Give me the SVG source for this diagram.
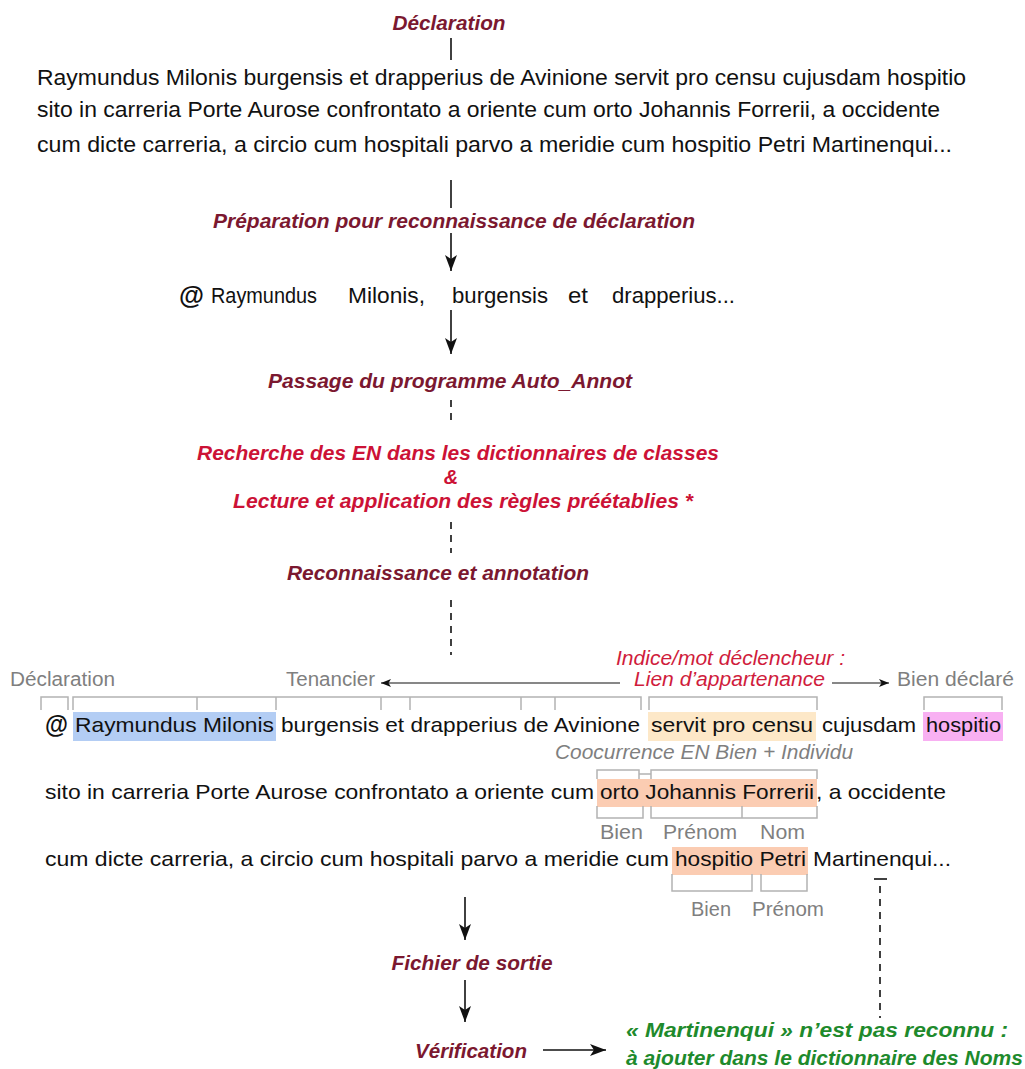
<svg xmlns="http://www.w3.org/2000/svg" width="1025" height="1069" viewBox="0 0 1025 1069">
<style>
.h{font-family:"Liberation Sans",Arial,sans-serif;font-weight:bold;font-style:italic;font-size:20px;fill:#7b1830;text-anchor:middle}
.rd{fill:#cc1236}
.gr{font-family:"Liberation Sans",Arial,sans-serif;font-weight:bold;font-style:italic;font-size:20px;fill:#1e8a2c}
.t{font-family:"Liberation Sans",Arial,sans-serif;font-size:21px;fill:#111}
.tp{font-size:22px}
.at{font-family:"Liberation Sans",Arial,sans-serif;font-size:25px;font-weight:bold;fill:#111}
.g{font-family:"Liberation Sans",Arial,sans-serif;font-size:20px;fill:#7f7f7f}
.gi{font-style:italic}
.ri{font-family:"Liberation Sans",Arial,sans-serif;font-size:20px;font-style:italic;fill:#d01c3c}
.br{fill:none;stroke:#b3b3b3;stroke-width:1.5}
.ln{fill:none;stroke:#111;stroke-width:1.6}
.ds{fill:none;stroke:#111;stroke-width:1.6;stroke-dasharray:7 6}
.thin{fill:none;stroke:#111;stroke-width:1.2}
</style>
<defs>
<marker id="ah" markerUnits="userSpaceOnUse" markerWidth="17" markerHeight="12" refX="16" refY="6" viewBox="0 0 16 12" orient="auto">
<path d="M0,0 L16,6 L0,12 L4,6 Z" fill="#111"/>
</marker>
<marker id="as" markerUnits="userSpaceOnUse" markerWidth="10" markerHeight="8" refX="10" refY="4" viewBox="0 0 10 8" orient="auto">
<path d="M0,0 L10,4 L0,8 L2.5,4 Z" fill="#111"/>
</marker>
</defs>

<g id="highlights">
<rect x="73" y="712" width="203" height="29" fill="#b3cdf4"/>
<rect x="648" y="712" width="168" height="29" fill="#fde8c8"/>
<rect x="923" y="712" width="80" height="29" fill="#f8b0f2"/>
<rect x="597" y="779" width="220" height="28" fill="#fbccb2"/>
<rect x="672" y="847" width="136" height="28" fill="#fbccb2"/>
</g>

<g id="connectors">
<line class="ln" x1="451" y1="38" x2="451" y2="60"/>
<line class="ln" x1="451" y1="180" x2="451" y2="208"/>
<line class="ln" x1="451" y1="233" x2="451" y2="271" marker-end="url(#ah)"/>
<line class="ln" x1="451" y1="310" x2="451" y2="354" marker-end="url(#ah)"/>
<line class="ds" x1="451" y1="400" x2="451" y2="423"/>
<line class="ds" x1="451" y1="522" x2="451" y2="553"/>
<line class="ds" x1="451" y1="600" x2="451" y2="655"/>
<line class="thin" x1="620" y1="683" x2="381" y2="683" marker-end="url(#as)"/>
<line class="thin" x1="832" y1="683" x2="889" y2="683" marker-end="url(#as)"/>
<line class="ln" x1="465" y1="897" x2="465" y2="940" marker-end="url(#ah)"/>
<line class="ln" x1="465" y1="980" x2="465" y2="1022" marker-end="url(#ah)"/>
<line class="ln" x1="543" y1="1050" x2="606" y2="1050" marker-end="url(#ah)"/>
<line class="ln" x1="874" y1="879" x2="887" y2="879"/>
<line class="ds" x1="880" y1="886" x2="880" y2="1018"/>
</g>

<g id="brackets">
<path class="br" d="M41,710 V697 H68 V710"/>
<path class="br" d="M73,710 V697 H641 V710 M197,697 V710 M276,697 V710 M381,697 V710 M410,697 V710 M521,697 V710 M555,697 V710"/>
<path class="br" d="M649,710 V697 H817 V710"/>
<path class="br" d="M924,710 V697 H1002 V710"/>
<path class="br" d="M597,779 V770 H639 V779 M639,774 H651 M651,779 V770 H817 V779"/>
<path class="br" d="M597,806 V818 H643 V806 M651,806 V818 H817 V806 M742,806 V818"/>
<path class="br" d="M672,874 V891 H752 V874 M761,874 V891 H807 V874"/>
</g>

<g id="n-declaration"><text class="h" x="449" y="30" textLength="113" lengthAdjust="spacingAndGlyphs">Déclaration</text></g>

<g id="n-texte">
<text class="t tp" x="37" y="85" textLength="929" lengthAdjust="spacingAndGlyphs">Raymundus Milonis burgensis et drapperius de Avinione servit pro censu cujusdam hospitio</text>
<text class="t tp" x="37" y="117" textLength="903" lengthAdjust="spacingAndGlyphs">sito in carreria Porte Aurose confrontato a oriente cum orto Johannis Forrerii, a occidente</text>
<text class="t tp" x="37" y="152" textLength="915" lengthAdjust="spacingAndGlyphs">cum dicte carreria, a circio cum hospitali parvo a meridie cum hospitio Petri Martinenqui...</text>
</g>

<g id="n-preparation"><text class="h" x="454" y="228" textLength="482" lengthAdjust="spacingAndGlyphs">Préparation pour reconnaissance de déclaration</text></g>

<g id="n-prepared">
<text class="at" x="179" y="304" textLength="25" lengthAdjust="spacingAndGlyphs">@</text>
<text class="t tp" x="211" y="303" textLength="106" lengthAdjust="spacingAndGlyphs">Raymundus</text>
<text class="t tp" x="348" y="303" textLength="77" lengthAdjust="spacingAndGlyphs">Milonis,</text>
<text class="t tp" x="452" y="303" textLength="96" lengthAdjust="spacingAndGlyphs">burgensis</text>
<text class="t tp" x="568" y="303" textLength="20" lengthAdjust="spacingAndGlyphs">et</text>
<text class="t tp" x="612" y="303" textLength="123" lengthAdjust="spacingAndGlyphs">drapperius...</text>
</g>

<g id="n-passage"><text class="h" x="450" y="388" textLength="364" lengthAdjust="spacingAndGlyphs">Passage du programme Auto_Annot</text></g>

<g id="n-recherche">
<text class="h rd" x="458" y="460" textLength="522" lengthAdjust="spacingAndGlyphs">Recherche des EN dans les dictionnaires de classes</text>
<text class="h rd" x="451" y="484">&amp;</text>
<text class="h rd" x="463" y="508" textLength="460" lengthAdjust="spacingAndGlyphs">Lecture et application des règles préétablies *</text>
</g>

<g id="n-reconnaissance"><text class="h" x="438" y="580" textLength="302" lengthAdjust="spacingAndGlyphs">Reconnaissance et annotation</text></g>

<g id="n-annotation">
<text class="g" x="10" y="686" textLength="105" lengthAdjust="spacingAndGlyphs">Déclaration</text>
<text class="g" x="286" y="686" textLength="89" lengthAdjust="spacingAndGlyphs">Tenancier</text>
<text class="ri" x="616" y="665" textLength="229" lengthAdjust="spacingAndGlyphs">Indice/mot déclencheur :</text>
<text class="ri" x="634" y="686" textLength="191" lengthAdjust="spacingAndGlyphs">Lien d’appartenance</text>
<text class="g" x="897" y="686" textLength="117" lengthAdjust="spacingAndGlyphs">Bien déclaré</text>

<text class="at" x="45" y="733" textLength="23" lengthAdjust="spacingAndGlyphs">@</text>
<text class="t" x="75" y="732" textLength="199" lengthAdjust="spacingAndGlyphs">Raymundus Milonis</text>
<text class="t" x="281" y="732" textLength="359" lengthAdjust="spacingAndGlyphs">burgensis et drapperius de Avinione</text>
<text class="t" x="651" y="732" textLength="162" lengthAdjust="spacingAndGlyphs">servit pro censu</text>
<text class="t" x="822" y="732" textLength="94" lengthAdjust="spacingAndGlyphs">cujusdam</text>
<text class="t" x="926" y="732" textLength="75" lengthAdjust="spacingAndGlyphs">hospitio</text>

<text class="g gi" x="555" y="759" textLength="298" lengthAdjust="spacingAndGlyphs">Coocurrence EN Bien + Individu</text>

<text class="t" x="45" y="799" textLength="549" lengthAdjust="spacingAndGlyphs">sito in carreria Porte Aurose confrontato a oriente cum</text>
<text class="t" x="600" y="799" textLength="214" lengthAdjust="spacingAndGlyphs">orto Johannis Forrerii</text>
<text class="t" x="816" y="799" textLength="130" lengthAdjust="spacingAndGlyphs">, a occidente</text>

<text class="g" x="600" y="839" textLength="43" lengthAdjust="spacingAndGlyphs">Bien</text>
<text class="g" x="663" y="839" textLength="74" lengthAdjust="spacingAndGlyphs">Prénom</text>
<text class="g" x="760" y="839" textLength="45" lengthAdjust="spacingAndGlyphs">Nom</text>

<text class="t" x="45" y="866" textLength="624" lengthAdjust="spacingAndGlyphs">cum dicte carreria, a circio cum hospitali parvo a meridie cum</text>
<text class="t" x="675" y="866" textLength="131" lengthAdjust="spacingAndGlyphs">hospitio Petri</text>
<text class="t" x="813" y="866" textLength="138" lengthAdjust="spacingAndGlyphs">Martinenqui...</text>

<text class="g" x="691" y="916" textLength="40" lengthAdjust="spacingAndGlyphs">Bien</text>
<text class="g" x="752" y="916" textLength="72" lengthAdjust="spacingAndGlyphs">Prénom</text>
</g>

<g id="n-fichier"><text class="h" x="472" y="970" textLength="161" lengthAdjust="spacingAndGlyphs">Fichier de sortie</text></g>
<g id="n-verification"><text class="h" x="471" y="1058" textLength="112" lengthAdjust="spacingAndGlyphs">Vérification</text></g>
<g id="n-note">
<text class="gr" x="626" y="1037" textLength="382" lengthAdjust="spacingAndGlyphs">« Martinenqui » n’est pas reconnu :</text>
<text class="gr" x="626" y="1065" textLength="397" lengthAdjust="spacingAndGlyphs">à ajouter dans le dictionnaire des Noms</text>
</g>
</svg>
